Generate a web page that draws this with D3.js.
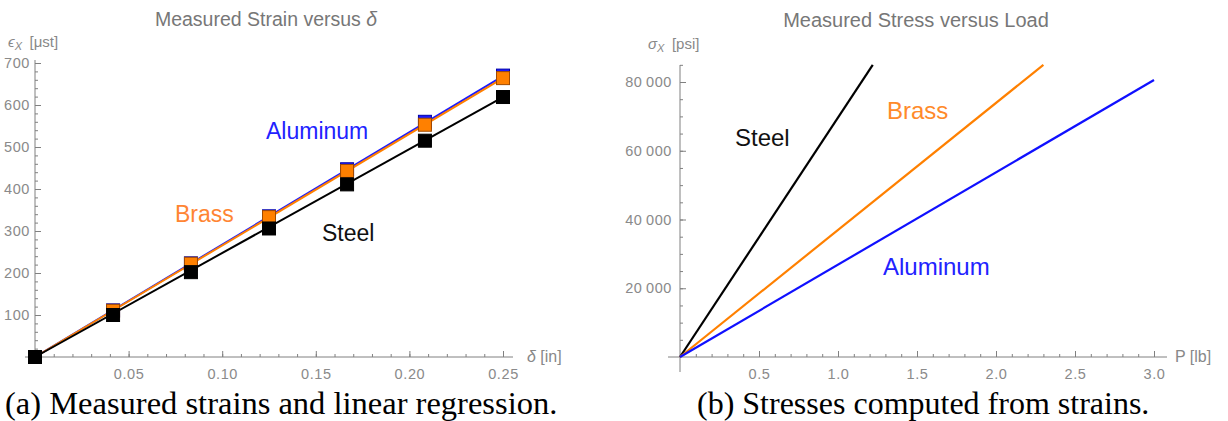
<!DOCTYPE html>
<html>
<head>
<meta charset="utf-8">
<title>Measured Strain and Stress</title>
<style>
  body { margin: 0; background: #fff; }
  svg { display: block; }
  .tick text { font-family: "Liberation Sans", Arial, sans-serif; font-size: 14.5px; fill: #8a8a8a; letter-spacing: 0.6px; }
  .axis path, .axis line { stroke: #808080; }
</style>
</head>
<body>
<script src="https://cdn.jsdelivr.net/npm/d3@7/dist/d3.min.js"></script>
<script>
  // ---- data ----
  var delta = [0, 0.0417, 0.0833, 0.125, 0.1667, 0.2083, 0.25];       // in
  var strainAluminum = [0, 111, 223, 335, 447, 560, 670];           // microstrain
  var strainBrass    = [0, 110, 222, 333, 443, 553, 664];
  var strainSteel    = [0, 100, 202, 306, 411, 515, 619];

  // regression lines (end points)
  var fitAluminum = [[0, 0], [0.25, 669]];
  var fitBrass    = [[0, 0], [0.25, 664]];
  var fitSteel    = [[0, 0], [0.25, 619]];

  // stress vs load lines (end points)
  var stressSteel    = [[0, 0], [1.22, 85000]];
  var stressBrass    = [[0, 0], [2.30, 85000]];
  var stressAluminum = [[0, 0], [3.0, 80600]];

  var strainTicks = [100, 200, 300, 400, 500, 600, 700];
  var deltaTicks  = [0.05, 0.10, 0.15, 0.20, 0.25];
  var stressTicks = [20000, 40000, 60000, 80000];
  var loadTicks   = [0.5, 1.0, 1.5, 2.0, 2.5, 3.0];

  var width = 1228, height = 421;
  var blue = "#1a1aff", orange = "#ff8000", black = "#000";

  var svg = d3.select("body").append("svg")
    .attr("width", width)
    .attr("height", height);

  var sans = "'Liberation Sans', Arial, sans-serif";

  // ================= left chart =================
  var x1 = d3.scaleLinear().domain([0, 0.25]).range([35, 503]);
  var y1 = d3.scaleLinear().domain([0, 700]).range([357, 63]);

  var left = svg.append("g").attr("id", "strain");

  // minor ticks
  left.append("g").attr("class", "axis")
    .attr("transform", "translate(0," + y1(0) + ")")
    .call(d3.axisBottom(x1).tickValues(d3.range(1, 26).map(function (i) { return i / 100; }))
      .tickSize(-3).tickFormat(""))
    .call(function (g) { g.select(".domain").remove(); });
  left.append("g").attr("class", "axis")
    .attr("transform", "translate(" + x1(0) + ",0)")
    .call(d3.axisLeft(y1).tickValues(d3.range(20, 701, 20)).tickSize(-3).tickFormat(""))
    .call(function (g) { g.select(".domain").remove(); });

  // major ticks
  left.append("g").attr("class", "axis")
    .attr("transform", "translate(0," + y1(0) + ")")
    .call(d3.axisBottom(x1).tickValues(deltaTicks).tickSize(-6).tickPadding(12)
      .tickFormat(d3.format(".2f")))
    .call(function (g) { g.select(".domain").remove(); });
  left.append("g").attr("class", "axis")
    .attr("transform", "translate(" + x1(0) + ",0)")
    .call(d3.axisLeft(y1).tickValues(strainTicks).tickSize(-6).tickPadding(5))
    .call(function (g) { g.select(".domain").remove(); });

  // axis lines
  left.append("line").attr("x1", 25).attr("x2", 513).attr("y1", y1(0)).attr("y2", y1(0))
    .attr("stroke", "#808080");
  left.append("line").attr("x1", x1(0)).attr("x2", x1(0)).attr("y1", 364).attr("y2", 60)
    .attr("stroke", "#808080");

  var line1 = d3.line().x(function (d) { return x1(d[0]); }).y(function (d) { return y1(d[1]); });

  var strainSeries = [
    { fit: fitAluminum, vals: strainAluminum, color: blue, edge: "#0000aa" },
    { fit: fitBrass, vals: strainBrass, color: orange, edge: "#a04a00" },
    { fit: fitSteel, vals: strainSteel, color: black, edge: "#000" }
  ];

  strainSeries.forEach(function (s) {
    left.append("path").datum(s.fit)
      .attr("d", line1).attr("fill", "none")
      .attr("stroke", s.color).attr("stroke-width", 2);
  });
  strainSeries.forEach(function (s) {
    left.append("g").selectAll("rect")
      .data(s.vals.map(function (v, i) { return [delta[i], v]; }))
      .enter().append("rect")
      .attr("x", function (d) { return x1(d[0]) - 6.5; })
      .attr("y", function (d) { return y1(d[1]) - 6.5; })
      .attr("width", 13).attr("height", 13)
      .attr("fill", s.color).attr("stroke", s.edge).attr("stroke-width", 1);
  });

  left.append("text").attr("x", 266).attr("y", 26).attr("text-anchor", "middle")
    .attr("font-family", sans).attr("font-size", 19.5).attr("fill", "#777")
    .text("Measured Strain versus ")
    .append("tspan").attr("font-style", "italic").text("δ");

  var yl1 = left.append("text").attr("x", 8).attr("y", 47)
    .attr("font-family", sans).attr("font-size", 15).attr("fill", "#888");
  yl1.append("tspan").attr("font-style", "italic").text("ϵ");
  yl1.append("tspan").attr("font-style", "italic").attr("font-size", 11).attr("dy", 3).text("X");
  yl1.append("tspan").attr("dy", -3).text("\u2002[μst]");

  var xl1 = left.append("text").attr("x", 527).attr("y", 362)
    .attr("font-family", sans).attr("font-size", 16).attr("fill", "#888");
  xl1.append("tspan").attr("font-style", "italic").text("δ");
  xl1.append("tspan").text(" [in]");

  var leftLabels = [
    { t: "Aluminum", x: 266, y: 139, c: "#2222ff" },
    { t: "Brass", x: 175, y: 222, c: "#ff8533" },
    { t: "Steel", x: 322, y: 241, c: "#111" }
  ];
  left.selectAll(".lbl").data(leftLabels).enter().append("text")
    .attr("x", function (d) { return d.x; }).attr("y", function (d) { return d.y; })
    .attr("font-family", sans).attr("font-size", 23)
    .attr("fill", function (d) { return d.c; })
    .text(function (d) { return d.t; });

  // ================= right chart =================
  var x2 = d3.scaleLinear().domain([0, 3]).range([680, 1154]);
  var y2 = d3.scaleLinear().domain([0, 80000]).range([357, 82]);

  var right = svg.append("g").attr("id", "stress");

  right.append("g").attr("class", "axis")
    .attr("transform", "translate(0," + y2(0) + ")")
    .call(d3.axisBottom(x2).tickValues(d3.range(1, 31).map(function (i) { return i / 10; }))
      .tickSize(-3).tickFormat(""))
    .call(function (g) { g.select(".domain").remove(); });
  right.append("g").attr("class", "axis")
    .attr("transform", "translate(" + x2(0) + ",0)")
    .call(d3.axisLeft(y2).tickValues(d3.range(5000, 85001, 5000)).tickSize(-3).tickFormat(""))
    .call(function (g) { g.select(".domain").remove(); });

  right.append("g").attr("class", "axis")
    .attr("transform", "translate(0," + y2(0) + ")")
    .call(d3.axisBottom(x2).tickValues(loadTicks).tickSize(-6).tickPadding(12)
      .tickFormat(d3.format(".1f")))
    .call(function (g) { g.select(".domain").remove(); });
  right.append("g").attr("class", "axis")
    .attr("transform", "translate(" + x2(0) + ",0)")
    .call(d3.axisLeft(y2).tickValues(stressTicks).tickSize(-6).tickPadding(8)
      .tickFormat(function (d) { return (d / 1000) + "\u2009000"; }))
    .call(function (g) { g.select(".domain").remove(); });

  right.append("line").attr("x1", 668).attr("x2", 1167).attr("y1", y2(0)).attr("y2", y2(0))
    .attr("stroke", "#808080");
  right.append("line").attr("x1", x2(0)).attr("x2", x2(0)).attr("y1", 372).attr("y2", 65)
    .attr("stroke", "#808080");

  var line2 = d3.line().x(function (d) { return x2(d[0]); }).y(function (d) { return y2(d[1]); });

  [[stressSteel, black], [stressBrass, orange], [stressAluminum, "#1010ff"]].forEach(function (s) {
    right.append("path").datum(s[0])
      .attr("d", line2).attr("fill", "none")
      .attr("stroke", s[1]).attr("stroke-width", 2.2);
  });

  right.append("text").attr("x", 916).attr("y", 27).attr("text-anchor", "middle")
    .attr("font-family", sans).attr("font-size", 20).attr("fill", "#777")
    .text("Measured Stress versus Load");

  var yl2 = right.append("text").attr("x", 648).attr("y", 49)
    .attr("font-family", sans).attr("font-size", 15).attr("fill", "#888");
  yl2.append("tspan").attr("font-style", "italic").text("σ");
  yl2.append("tspan").attr("font-style", "italic").attr("font-size", 11).attr("dy", 3).text("X");
  yl2.append("tspan").attr("dy", -3).text("\u2002[psi]");

  right.append("text").attr("x", 1175).attr("y", 362)
    .attr("font-family", sans).attr("font-size", 16).attr("fill", "#888")
    .text("P [lb]");

  var rightLabels = [
    { t: "Steel", x: 735, y: 146, c: "#111" },
    { t: "Brass", x: 887, y: 119, c: "#ff8a2a" },
    { t: "Aluminum", x: 883, y: 275, c: "#2222ff" }
  ];
  right.selectAll(".lbl").data(rightLabels).enter().append("text")
    .attr("x", function (d) { return d.x; }).attr("y", function (d) { return d.y; })
    .attr("font-family", sans).attr("font-size", 24)
    .attr("fill", function (d) { return d.c; })
    .text(function (d) { return d.t; });

  // ================= captions =================
  var serif = "'Liberation Serif', 'Times New Roman', serif";
  svg.append("text").attr("x", 5).attr("y", 414)
    .attr("font-family", serif).attr("font-size", 32.5).attr("fill", "#000")
    .text("(a) Measured strains and linear regression.");
  svg.append("text").attr("x", 697).attr("y", 414)
    .attr("font-family", serif).attr("font-size", 32).attr("fill", "#000")
    .text("(b) Stresses computed from strains.");
</script>
</body>
</html>
